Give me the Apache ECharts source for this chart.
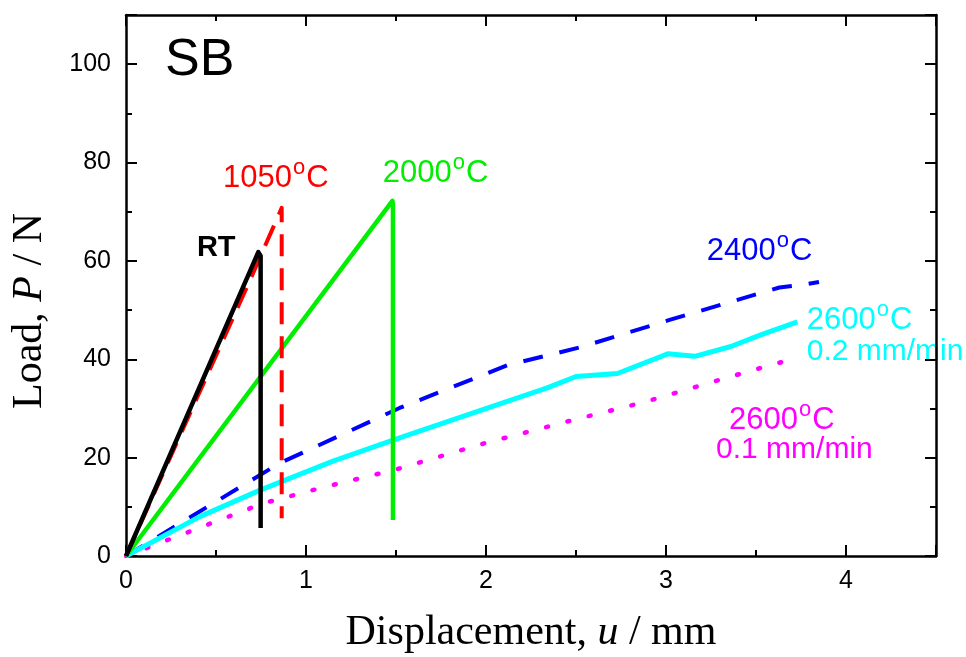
<!DOCTYPE html>
<html>
<head>
<meta charset="utf-8">
<script src="https://cdn.jsdelivr.net/npm/echarts@6/dist/echarts.min.js"></script>
<style>html,body{margin:0;padding:0;background:#fff;}#c{width:966px;height:657px;}</style>
</head>
<body>
<div id="c"></div>
<script>
// ---- data (displacement u in mm, load P in N) ----
var rtU   = [0, 0.735, 0.748, 0.748];
var rtP   = [0, 61.8, 61.0, 5.7];
var t1050U = [0, 0.30, 0.70, 0.755, 0.85, 0.865, 0.865];
var t1050P = [0, 24.5, 57.0, 61.6, 69.5, 70.8, 7.7];
var t2000U = [0, 1.48, 1.483, 1.483];
var t2000P = [0, 72.2, 71.5, 7.3];
var t2400U = [0, 0.85, 1.52, 2.12, 2.52, 3.02, 3.63, 3.75, 3.85];
var t2400P = [0, 18.8, 30.1, 38.8, 42.4, 48.0, 54.6, 55.1, 55.7];
var t2600fU = [0, 0.41, 0.745, 1.15, 1.52, 1.97, 2.34, 2.50, 2.73, 3.01, 3.16, 3.36, 3.53, 3.73];
var t2600fP = [0, 8.0, 13.4, 19.3, 24.0, 29.6, 34.2, 36.5, 37.1, 41.1, 40.6, 42.6, 45.0, 47.6];
var t2600sU = [0, 0.76, 1.10, 1.50, 2.00, 2.50, 2.88, 3.13, 3.38, 3.64];
var t2600sP = [0, 10.7, 14.0, 17.6, 23.0, 27.8, 31.3, 34.0, 36.7, 39.4];
var xTicks = [0, 1, 2, 3, 4];
var yTicks = [0, 20, 40, 60, 80, 100];
// annotation texts and anchor points (data coords: left edge, vertical middle of digits)
var annTexts = ['SB', 'RT', '1050', '2000', '2400', '2600', '0.2 mm/min', '2600', '0.1 mm/min'];
var annU = [0.217, 0.394, 0.539, 1.426, 3.226, 3.782, 3.782, 3.35, 3.278];
var annP = [99.6, 62.1, 77.3, 78.4, 62.6, 48.5, 40.9, 28.2, 21.0];
</script>
<script>
function zip(a, b) { return a.map(function (v, i) { return [v, b[i]]; }); }
var chart = echarts.init(document.getElementById('c'), null, {renderer: 'canvas'});
var F = 'Arial, "Liberation Sans", Helvetica, sans-serif';
var SERIF = '"Times New Roman", "Liberation Serif", serif';
function axisCommon(showLabel) {
  return {
    axisLine: {show: true, onZero: false, lineStyle: {color: '#000', width: 2.5}},
    axisTick: {show: true, inside: true, length: 11, lineStyle: {color: '#000', width: 2}},
    minorTick: {show: true, splitNumber: 2, length: 6, lineStyle: {color: '#000', width: 2}},
    splitLine: {show: false},
    minorSplitLine: {show: false},
    axisLabel: {show: showLabel, color: '#000', fontFamily: F, fontSize: 25}
  };
}
var xa0 = Object.assign({type: 'value', position: 'bottom', min: 0, max: 4.5, interval: 1}, axisCommon(true));
xa0.axisLabel.margin = 13;
xa0.axisLabel.formatter = function (v) { return xTicks.indexOf(v) >= 0 ? String(v) : ''; };
var xa1 = Object.assign({type: 'value', position: 'top', min: 0, max: 4.5, interval: 1}, axisCommon(false));
var ya0 = Object.assign({type: 'value', position: 'left', min: 0, max: 110, interval: 20}, axisCommon(true));
ya0.axisLabel.margin = 15;
ya0.axisLabel.formatter = function (v) { return yTicks.indexOf(v) >= 0 ? String(v) : ''; };
var ya1 = Object.assign({type: 'value', position: 'right', min: 0, max: 110, interval: 20}, axisCommon(false));

function lineSeries(name, u, p, color, width, dash, cap) {
  return {
    name: name, type: 'line', xAxisIndex: 0, yAxisIndex: 0,
    data: zip(u, p), symbol: 'none', showSymbol: false, smooth: false,
    animation: false, silent: true,
    lineStyle: {color: color, width: width, type: dash || 'solid', cap: cap || 'butt', join: 'round'}
  };
}
var series = [
  lineSeries('2600 0.1', t2600sU, t2600sP, '#FF00FF', 4.5, [2, 20], 'round'),
  lineSeries('2400', t2400U, t2400P, '#0000FF', 4, [20, 17]),
  lineSeries('2600 0.2', t2600fU, t2600fP, '#00FFFF', 5),
  lineSeries('2000', t2000U, t2000P, '#00EE00', 4.5),
  lineSeries('1050', t1050U, t1050P, '#FF0000', 4, [22, 12]),
  lineSeries('RT', rtU, rtP, '#000000', 4.5)
];
chart.setOption({
  animation: false,
  backgroundColor: '#fff',
  grid: {left: 126, right: 30, top: 15, bottom: 101, containLabel: false},
  xAxis: [xa0, xa1],
  yAxis: [ya0, ya1],
  series: series
});

var annStyles = [
  {color: '#000', size: 52, weight: 'normal', deg: false},
  {color: '#000', size: 29, weight: 'bold', deg: false},
  {color: '#FF0000', size: 31, weight: 'normal', deg: true},
  {color: '#00EE00', size: 31, weight: 'normal', deg: true},
  {color: '#0000FF', size: 31, weight: 'normal', deg: true},
  {color: '#00FFFF', size: 31, weight: 'normal', deg: true},
  {color: '#00FFFF', size: 30, weight: 'normal', deg: false},
  {color: '#FF00FF', size: 31, weight: 'normal', deg: true},
  {color: '#FF00FF', size: 30, weight: 'normal', deg: false}
];
var graphics = annTexts.map(function (t, i) {
  var px = chart.convertToPixel({gridIndex: 0}, [annU[i], annP[i]]);
  var st = annStyles[i];
  var text = st.deg ? '{n|' + t + '}{s|o}{n|C}' : '{n|' + t + '}';
  var lh = Math.round(st.size * 1.2);
  return {
    type: 'text', left: px[0], top: px[1] - lh / 2, silent: true,
    style: {
      text: text, fill: st.color, font: st.weight + ' ' + st.size + 'px ' + F,
      rich: {
        n: {fontSize: st.size, fontFamily: F, fontWeight: st.weight, fill: st.color, lineHeight: lh, verticalAlign: 'bottom'},
        s: {fontSize: 22, fontFamily: F, fill: st.color, verticalAlign: 'top', lineHeight: 18, padding: [0, 1, 0, 1]}
      }
    }
  };
});
// axis titles
graphics.push({
  type: 'text', x: 30, y: 311, rotation: Math.PI / 2, silent: true,
  style: {
    text: 'Load, {i|P} / N', fill: '#000', font: '42px ' + SERIF, align: 'center', verticalAlign: 'middle',
    rich: {i: {fontStyle: 'italic', fontSize: 42, fontFamily: SERIF, fill: '#000'}}
  }
});
graphics.push({
  type: 'text', x: 531, y: 633, silent: true,
  style: {
    text: 'Displacement, {i|u} / mm', fill: '#000', font: '42px ' + SERIF, align: 'center', verticalAlign: 'middle',
    rich: {i: {fontStyle: 'italic', fontSize: 42, fontFamily: SERIF, fill: '#000'}}
  }
});
chart.setOption({graphic: graphics});
</script>
</body>
</html>
